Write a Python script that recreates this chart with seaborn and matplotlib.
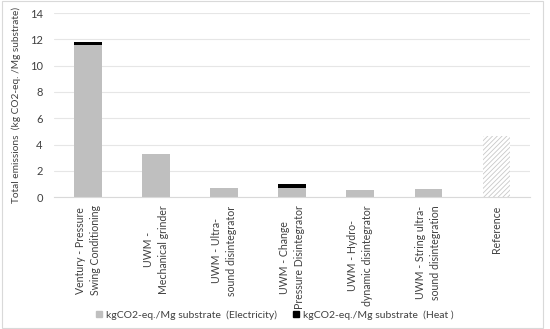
import matplotlib
matplotlib.use("Agg")
import matplotlib.pyplot as plt
import seaborn as sns
import pandas as pd
from matplotlib.patches import Patch, Rectangle

categories = [
    "Ventury - Pressure\nSwing Conditioning",
    "UWM -\nMechanical grinder",
    "UWM - Ultra-\nsound disintegrator",
    "UWM - Change\nPressure Disintegrator",
    "UWM - Hydro-\ndynamic disintegrator",
    "UWM - String ultra-\nsound disintegration",
    "Reference",
]
electricity = [11.55, 3.25, 0.70, 0.68, 0.52, 0.60, 4.65]
heat = [0.25, 0.0, 0.0, 0.28, 0.0, 0.0, 0.0]

df = pd.DataFrame({"cat": categories, "elec": electricity, "heat": heat})
df["total"] = df["elec"] + df["heat"]

sns.set_style("white")
plt.rcParams["font.family"] = ["Lato", "DejaVu Sans"]
plt.rcParams["hatch.linewidth"] = 0.6

fig = plt.figure(figsize=(5.5, 3.29), dpi=100)
ax = fig.add_axes([0.098, 0.401, 0.866, 0.559])

# stacked bars: total in black underneath, electricity in grey on top
sns.barplot(data=df, x="cat", y="total", color="black", width=0.4, ax=ax,
            saturation=1, linewidth=0)
sns.barplot(data=df, x="cat", y="elec", color="#bfbfbf", width=0.4, ax=ax,
            saturation=1, linewidth=0)

# reference bar is hatched
ref = ax.patches[-1]
ref.set_facecolor("white")
ref.set_hatch("///////")
ref.set_edgecolor("#c8c8c8")
ref.set_linewidth(0)

ax.set_ylim(0, 14)
ax.set_yticks(range(0, 15, 2))
ax.set_xlim(-0.5, len(categories) - 0.5)
ax.yaxis.grid(True, color="#e6e6e6", linewidth=0.8)
ax.set_axisbelow(True)
for s in ["top", "right", "left"]:
    ax.spines[s].set_visible(False)
ax.spines["bottom"].set_color("#d9d9d9")
ax.tick_params(axis="y", labelsize=8, length=0, colors="#404040", pad=8)
ax.tick_params(axis="x", labelsize=7.6, length=0, colors="#404040", pad=6)
plt.setp(ax.get_xticklabels(), rotation=90, va="top", ha="center",
         multialignment="center", linespacing=1.4)
ax.set_xlabel("")
ax.set_ylabel("Total emissions  (kg CO2-eq. /Mg substrate)", fontsize=7.3,
              color="#404040", labelpad=6)

handles = [Patch(color="#bfbfbf", label="kgCO2-eq./Mg substrate  (Electricity)"),
           Patch(color="black", label="kgCO2-eq./Mg substrate  (Heat )")]
fig.legend(handles=handles, loc="center", bbox_to_anchor=(0.5, 0.043), ncol=2,
           frameon=False, fontsize=7.5, handlelength=0.6, handleheight=0.6,
           columnspacing=1.5, handletextpad=0.4, labelcolor="#404040")

fig.patches.append(Rectangle((0.003, 0.003), 0.985, 0.994, transform=fig.transFigure,
                             fill=False, edgecolor="#d9d9d9", linewidth=0.8))

fig.savefig("out.png", dpi=100)
